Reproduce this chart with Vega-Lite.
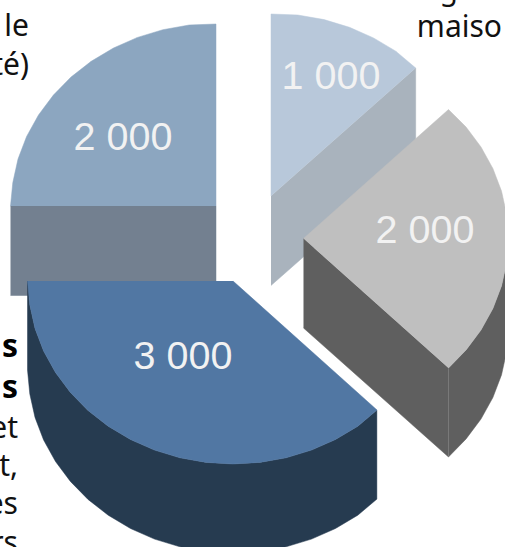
{"$schema":"https://vega.github.io/schema/vega-lite/v6.json","width":505,"height":547,"padding":0,"autosize":"none","background":"white","config":{"view":{"stroke":null}},
"datasets":{"shapes":[
{"part":"a","i":0,"x":10.5,"y":206},{"part":"a","i":1,"x":216,"y":206},{"part":"a","i":2,"x":216,"y":295.5},{"part":"a","i":3,"x":10.5,"y":295.5},
{"part":"b","i":0,"x":216,"y":206},{"part":"b","i":1,"x":216,"y":24},{"part":"b","i":2,"x":189.2,"y":25},{"part":"b","i":3,"x":162.9,"y":29.7},{"part":"b","i":4,"x":137.5,"y":37.4},{"part":"b","i":5,"x":113.5,"y":48},{"part":"b","i":6,"x":91.2,"y":61.3},{"part":"b","i":7,"x":71,"y":77.1},{"part":"b","i":8,"x":53.4,"y":95.1},{"part":"b","i":9,"x":38.5,"y":115},{"part":"b","i":10,"x":26.6,"y":136.5},{"part":"b","i":11,"x":18,"y":159.1},{"part":"b","i":12,"x":12.8,"y":182.6},{"part":"b","i":13,"x":10.5,"y":206},
{"part":"c","i":0,"x":271,"y":196},{"part":"c","i":1,"x":415.7,"y":68},{"part":"c","i":2,"x":415.7,"y":158},{"part":"c","i":3,"x":271,"y":285.5},
{"part":"d","i":0,"x":271,"y":196},{"part":"d","i":1,"x":271,"y":14},{"part":"d","i":2,"x":297.8,"y":15},{"part":"d","i":3,"x":324.1,"y":19.6},{"part":"d","i":4,"x":349.5,"y":27.3},{"part":"d","i":5,"x":373.5,"y":37.9},{"part":"d","i":6,"x":395.8,"y":51.2},{"part":"d","i":7,"x":415.7,"y":68},
{"part":"e","i":0,"x":303.5,"y":238.5},{"part":"e","i":1,"x":448.5,"y":368},{"part":"e","i":2,"x":448.5,"y":457},{"part":"e","i":3,"x":303.5,"y":328},
{"part":"f","i":0,"x":448.5,"y":368},{"part":"f","i":1,"x":466.1,"y":349.9},{"part":"f","i":2,"x":481,"y":330},{"part":"f","i":3,"x":492.9,"y":308.5},{"part":"f","i":4,"x":501.5,"y":285.9},{"part":"f","i":5,"x":506.7,"y":262.4},{"part":"f","i":6,"x":508.5,"y":238.5},{"part":"f","i":7,"x":508.5,"y":327.5},{"part":"f","i":8,"x":506.7,"y":351.4},{"part":"f","i":9,"x":501.5,"y":374.9},{"part":"f","i":10,"x":492.9,"y":397.5},{"part":"f","i":11,"x":481,"y":419},{"part":"f","i":12,"x":466.1,"y":438.9},{"part":"f","i":13,"x":448.5,"y":457},
{"part":"g","i":0,"x":448.5,"y":368},{"part":"g","i":1,"x":448.5,"y":457},
{"part":"h","i":0,"x":303.5,"y":238.5},{"part":"h","i":1,"x":448.5,"y":109.5},{"part":"h","i":2,"x":466.1,"y":127.1},{"part":"h","i":3,"x":481,"y":147},{"part":"h","i":4,"x":492.9,"y":168.5},{"part":"h","i":5,"x":501.5,"y":191.1},{"part":"h","i":6,"x":506.7,"y":214.6},{"part":"h","i":7,"x":508.5,"y":238.5},{"part":"h","i":8,"x":506.7,"y":262.4},{"part":"h","i":9,"x":501.5,"y":285.9},{"part":"h","i":10,"x":492.9,"y":308.5},{"part":"h","i":11,"x":481,"y":330},{"part":"h","i":12,"x":466.1,"y":349.9},{"part":"h","i":13,"x":448.5,"y":368},
{"part":"j","i":0,"x":377,"y":410},{"part":"j","i":1,"x":357.8,"y":426.2},{"part":"j","i":2,"x":335.5,"y":439.5},{"part":"j","i":3,"x":311.5,"y":450.1},{"part":"j","i":4,"x":286.1,"y":457.8},{"part":"j","i":5,"x":259.8,"y":462.4},{"part":"j","i":6,"x":233,"y":464},{"part":"j","i":7,"x":206.2,"y":462.4},{"part":"j","i":8,"x":179.9,"y":457.8},{"part":"j","i":9,"x":154.5,"y":450.1},{"part":"j","i":10,"x":130.5,"y":439.5},{"part":"j","i":11,"x":108.2,"y":426.2},{"part":"j","i":12,"x":88,"y":410.4},{"part":"j","i":13,"x":70.4,"y":392.4},{"part":"j","i":14,"x":55.5,"y":372.5},{"part":"j","i":15,"x":43.6,"y":351},{"part":"j","i":16,"x":35,"y":328.4},{"part":"j","i":17,"x":29.8,"y":304.9},{"part":"j","i":18,"x":27.5,"y":281},{"part":"j","i":19,"x":27.5,"y":370},{"part":"j","i":20,"x":29.8,"y":393.9},{"part":"j","i":21,"x":35,"y":417.4},{"part":"j","i":22,"x":43.6,"y":440},{"part":"j","i":23,"x":55.5,"y":461.5},{"part":"j","i":24,"x":70.4,"y":481.4},{"part":"j","i":25,"x":88,"y":499.4},{"part":"j","i":26,"x":108.2,"y":515.2},{"part":"j","i":27,"x":130.5,"y":528.5},{"part":"j","i":28,"x":154.5,"y":539.1},{"part":"j","i":29,"x":179.9,"y":546.8},{"part":"j","i":30,"x":206.2,"y":551.4},{"part":"j","i":31,"x":233,"y":553},{"part":"j","i":32,"x":259.8,"y":551.4},{"part":"j","i":33,"x":286.1,"y":546.8},{"part":"j","i":34,"x":311.5,"y":539.1},{"part":"j","i":35,"x":335.5,"y":528.5},{"part":"j","i":36,"x":357.8,"y":515.2},{"part":"j","i":37,"x":377,"y":499},
{"part":"k","i":0,"x":377,"y":410},{"part":"k","i":1,"x":377,"y":499},
{"part":"m","i":0,"x":233,"y":281},{"part":"m","i":1,"x":377,"y":410},{"part":"m","i":2,"x":357.8,"y":426.2},{"part":"m","i":3,"x":335.5,"y":439.5},{"part":"m","i":4,"x":311.5,"y":450.1},{"part":"m","i":5,"x":286.1,"y":457.8},{"part":"m","i":6,"x":259.8,"y":462.4},{"part":"m","i":7,"x":233,"y":464},{"part":"m","i":8,"x":206.2,"y":462.4},{"part":"m","i":9,"x":179.9,"y":457.8},{"part":"m","i":10,"x":154.5,"y":450.1},{"part":"m","i":11,"x":130.5,"y":439.5},{"part":"m","i":12,"x":108.2,"y":426.2},{"part":"m","i":13,"x":88,"y":410.4},{"part":"m","i":14,"x":70.4,"y":392.4},{"part":"m","i":15,"x":55.5,"y":372.5},{"part":"m","i":16,"x":43.6,"y":351},{"part":"m","i":17,"x":35,"y":328.4},{"part":"m","i":18,"x":29.8,"y":304.9},{"part":"m","i":19,"x":27.5,"y":281}
],
"labels":[{"t":"1 000","x":331,"y":89},{"t":"2 000","x":425,"y":243},{"t":"3 000","x":183,"y":368.5},{"t":"2 000","x":123,"y":150}],
"plain":[{"t":"le","x":29,"y":36},{"t":"té)","x":29,"y":75},{"t":"g","x":458,"y":0},{"t":"maiso","x":502,"y":37},{"t":"et","x":18,"y":438},{"t":"t,","x":18,"y":476},{"t":"es","x":18,"y":514},{"t":"rs","x":18,"y":553}],
"bold":[{"t":"s","x":18,"y":357},{"t":"s","x":18,"y":398}]},
"encoding":{
"x":{"field":"x","type":"quantitative","scale":{"domain":[0,505],"nice":false,"zero":false},"axis":null},
"y":{"field":"y","type":"quantitative","scale":{"domain":[547,0],"nice":false,"zero":false},"axis":null}},
"layer":[
{"data":{"name":"shapes"},"mark":{"type":"line","clip":true,"strokeWidth":0.5},"encoding":{
"order":{"field":"i","type":"quantitative"},
"detail":{"field":"part"},
"fill":{"field":"part","type":"nominal","legend":null,"sort":null,"scale":{"domain":["a","b","c","d","e","f","g","h","j","k","m"],"range":["#738090","#8ca6c0","#a9b3bd","#b8c8da","#5f5f5f","#5f5f5f","#808080","#bfbfbf","#263b50","#6f7f8f","#5177a3"]}},
"stroke":{"field":"part","type":"nominal","legend":null,"sort":null,"scale":{"domain":["a","b","c","d","e","f","g","h","j","k","m"],"range":["#738090","#8ca6c0","#a9b3bd","#b8c8da","#5f5f5f","#5f5f5f","#808080","#bfbfbf","#263b50","#6f7f8f","#5177a3"]}}
}},
{"data":{"name":"labels"},"mark":{"type":"text","font":"Liberation Sans","fontSize":39.5,"align":"center","baseline":"alphabetic","color":"#f2f2f2"},"encoding":{"text":{"field":"t"}}},
{"data":{"name":"plain"},"mark":{"type":"text","font":"Noto Sans","fontSize":30,"align":"right","baseline":"alphabetic","color":"#111111"},"encoding":{"text":{"field":"t"}}},
{"data":{"name":"bold"},"mark":{"type":"text","font":"Noto Sans","fontSize":32,"fontWeight":"bold","align":"right","baseline":"alphabetic","color":"#000000"},"encoding":{"text":{"field":"t"}}}
]}
